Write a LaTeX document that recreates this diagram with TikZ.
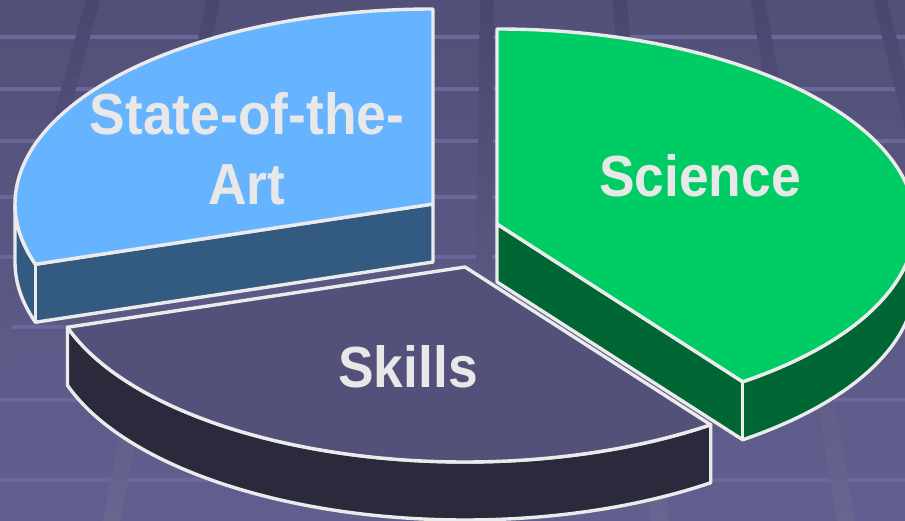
\documentclass[tikz,border=0pt]{standalone}
\usepackage{fontspec}
\newfontfamily\slicefont[FakeStretch=0.92]{Liberation Sans}
\usetikzlibrary{calc}
\definecolor{bgtop}{HTML}{525078}
\definecolor{bgbottom}{HTML}{615F8F}
\definecolor{stripe}{HTML}{6A689A}
\definecolor{tiletop}{HTML}{494770}
\definecolor{tilebottom}{HTML}{686690}
\definecolor{rimwhite}{HTML}{EBEBEB}
\definecolor{textwhite}{HTML}{E8E8E8}
\definecolor{arttop}{HTML}{66B3FF}
\definecolor{artside}{HTML}{335A80}
\definecolor{sciencetop}{HTML}{00CC66}
\definecolor{scienceside}{HTML}{006633}
\definecolor{skillstop}{HTML}{535079}
\definecolor{skillsside}{HTML}{2A2A3C}

\begin{document}
\begin{tikzpicture}[x=1pt, y=1pt,
  rim/.style={draw=rimwhite, line width=3.4pt, line join=round},
  radii/.style={x radius=418pt, y radius=195pt},
  slicetext/.style={text=textwhite, align=center, inner sep=0pt,
    font=\slicefont\bfseries\fontsize{58}{70}\selectfont}]
\useasboundingbox (0,0) rectangle (905,521);
\clip (0,0) rectangle (905,521);
\shade[top color=bgtop, bottom color=bgbottom] (0,0) rectangle (905,521);
\foreach \y in {484,432,380,324,264,194,121,41}
  \draw[stripe, line width=4.5pt] (0,\y) -- (905,\y);
\foreach \x in {93,213,487,620,758,880} {
  \pgfmathsetmacro\xb{505+(\x-505)*1.3473}
  \shade[top color=tiletop, bottom color=tilebottom]
    (\x-7,521) -- (\x+7,521) -- (\xb+9,0) -- (\xb-9,0) -- cycle;
}

\coordinate (art c) at (433,317);
\coordinate (science c) at (497,297);
\coordinate (skills c) at (465,254);

\filldraw[rim, fill=artside] (art c) ++(180:418pt and 195pt)
  arc[radii, start angle=180, end angle=198] -- (art c) -- ++(0,-58)
  -- ++(198:418pt and 195pt) arc[radii, start angle=198, end angle=180] -- cycle;
\draw[rim] (art c) ++(198:418pt and 195pt) -- ++(0,-58);
\filldraw[rim, fill=arttop] (art c) -- ++(90:418pt and 195pt)
  arc[radii, start angle=90, end angle=198] -- cycle;
\node[slicetext, anchor=base] (art) at (247,316) {State-of-the-\\Art};

\filldraw[rim, fill=scienceside] (science c) -- ++(-54:418pt and 195pt)
  arc[radii, start angle=-54, end angle=0] -- ++(0,-58)
  arc[radii, start angle=0, end angle=-54] -- ($(science c)+(0,-58)$) -- cycle;
\draw[rim] (science c) ++(-54:418pt and 195pt) -- ++(0,-58);
\filldraw[rim, fill=sciencetop] (science c) -- ++(-54:418pt and 195pt)
  arc[radii, start angle=-54, end angle=90] -- cycle;
\node[slicetext, anchor=base] (science) at (700,324) {Science};

\filldraw[rim, fill=skillsside] (skills c) ++(198:418pt and 195pt)
  arc[radii, start angle=198, end angle=306] -- ++(0,-58)
  arc[radii, start angle=306, end angle=198] -- cycle;
\filldraw[rim, fill=skillstop] (skills c) -- ++(198:418pt and 195pt)
  arc[radii, start angle=198, end angle=306] -- cycle;
\node[slicetext, anchor=base] (skills) at (408,133) {Skills};
\end{tikzpicture}
\end{document}
